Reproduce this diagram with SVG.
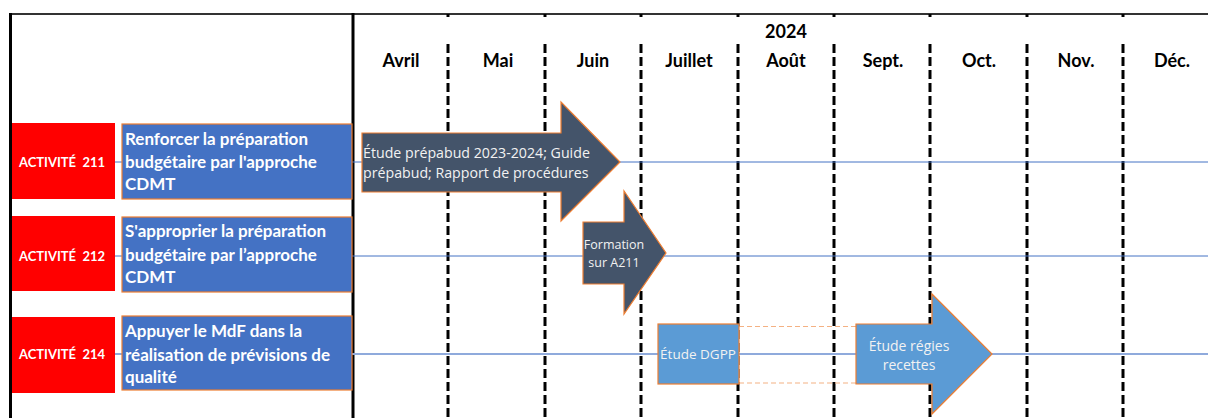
<svg xmlns="http://www.w3.org/2000/svg" width="1208" height="418" viewBox="0 0 1208 418">
<style>
.month{font-family:Lato,"Liberation Sans",sans-serif;font-weight:bold;font-size:18px;fill:#000;text-anchor:middle}
.act{fill:#FF0000}
.acttxt{font-family:Lato,"Liberation Sans",sans-serif;font-weight:bold;font-size:13px;fill:#fff;text-anchor:middle;white-space:pre}
.desc{fill:#4472C4;stroke:#ED7D31;stroke-width:1.2}
.desctxt{font-family:Lato,"Liberation Sans",sans-serif;font-weight:bold;font-size:17px;fill:#fff}
.dash{stroke:#000;stroke-width:3;stroke-dasharray:9 4}
.row{stroke:#4472C4;stroke-width:1}
.dark{fill:#44546A;stroke:#ED7D31;stroke-width:1.2}
.light{fill:#5B9BD5;stroke:#ED7D31;stroke-width:1.2}
.atxt{font-family:"Open Sans","Liberation Sans",sans-serif;font-size:12.5px;fill:#F2F2F2}
</style>
<rect width="1208" height="418" fill="#fff"/>
<g id="frame">
<line x1="9" y1="14" x2="1208" y2="14" stroke="#333" stroke-width="2"/>
<line x1="10.5" y1="13" x2="10.5" y2="418" stroke="#000" stroke-width="3"/>
<line x1="353" y1="13" x2="353" y2="418" stroke="#000" stroke-width="3"/>
</g>
<g id="grid">
<line class="dash" x1="448" y1="44" x2="448" y2="418"/>
<line class="dash" x1="545" y1="44" x2="545" y2="418"/>
<line class="dash" x1="641" y1="44" x2="641" y2="418"/>
<line class="dash" x1="738" y1="44" x2="738" y2="418"/>
<line class="dash" x1="834" y1="44" x2="834" y2="418"/>
<line class="dash" x1="930" y1="44" x2="930" y2="418"/>
<line class="dash" x1="1027" y1="44" x2="1027" y2="418"/>
<line class="dash" x1="1123" y1="44" x2="1123" y2="418"/>
<g stroke="#000" stroke-width="3">
<line x1="448" y1="14" x2="448" y2="17"/><line x1="545" y1="14" x2="545" y2="17"/><line x1="641" y1="14" x2="641" y2="17"/><line x1="738" y1="14" x2="738" y2="17"/><line x1="834" y1="14" x2="834" y2="17"/><line x1="930" y1="14" x2="930" y2="17"/><line x1="1027" y1="14" x2="1027" y2="17"/><line x1="1123" y1="14" x2="1123" y2="17"/>
</g>
</g>
<g id="header">
<text class="month" x="786" y="38">2024</text>
<text class="month" x="401" y="67">Avril</text>
<text class="month" x="498" y="67">Mai</text>
<text class="month" x="593" y="67">Juin</text>
<text class="month" x="689" y="67">Juillet</text>
<text class="month" x="786" y="67">Août</text>
<text class="month" x="883" y="67">Sept.</text>
<text class="month" x="979" y="67">Oct.</text>
<text class="month" x="1076" y="67">Nov.</text>
<text class="month" x="1172" y="67">Déc.</text>
</g>
<g id="connectors">
<line class="row" x1="115" y1="162" x2="1208" y2="162"/>
<line class="row" x1="115" y1="256" x2="1208" y2="256"/>
<line x1="115" y1="354" x2="1208" y2="354" stroke="#8FAADC" stroke-width="2"/>
<line x1="739" y1="326.5" x2="856" y2="326.5" stroke="#F4B183" stroke-width="1.2" stroke-dasharray="5 3"/>
<line x1="739" y1="383" x2="856" y2="383" stroke="#F4B183" stroke-width="1.2" stroke-dasharray="5 3"/>
</g>
<g id="act211">
<rect class="act" x="12" y="123" width="103" height="76"/>
<text class="acttxt" x="62" y="166.5" xml:space="preserve">ACTIVITÉ  211</text>
</g>
<g id="desc211">
<rect class="desc" x="122" y="124" width="230" height="75"/>
<text class="desctxt" x="125" y="145">Renforcer la préparation</text>
<text class="desctxt" x="125" y="168">budgétaire par l'approche</text>
<text class="desctxt" x="125" y="190">CDMT</text>
</g>
<g id="act212">
<rect class="act" x="12" y="216" width="103" height="75"/>
<text class="acttxt" x="62" y="260.5" xml:space="preserve">ACTIVITÉ  212</text>
</g>
<g id="desc212">
<rect class="desc" x="122" y="217" width="230" height="75"/>
<text class="desctxt" x="125" y="237">S'approprier la préparation</text>
<text class="desctxt" x="125" y="261">budgétaire par l’approche</text>
<text class="desctxt" x="125" y="283">CDMT</text>
</g>
<g id="act214">
<rect class="act" x="12" y="317" width="103" height="76"/>
<text class="acttxt" x="62" y="358.5" xml:space="preserve">ACTIVITÉ  214</text>
</g>
<g id="desc214">
<rect class="desc" x="122" y="316" width="230" height="74"/>
<text class="desctxt" x="125" y="337">Appuyer le MdF dans la</text>
<text class="desctxt" x="125" y="361">réalisation de prévisions de</text>
<text class="desctxt" x="125" y="383">qualité</text>
</g>
<g id="arrow1">
<polygon class="dark" points="362,133 561,133 561,102 620,162 561,221 561,192 362,192"/>
<text class="atxt" x="363" y="158" style="font-size:14.2px">Étude prépabud 2023-2024; Guide</text>
<text class="atxt" x="363" y="178" style="font-size:14.2px">prépabud; Rapport de procédures</text>
</g>
<g id="arrow2">
<polygon class="dark" points="583,222 624,222 624,191 666,253 624,314 624,284 583,284"/>
<text class="atxt" x="614" y="249" text-anchor="middle">Formation</text>
<text class="atxt" x="614" y="267" text-anchor="middle">sur A211</text>
</g>
<g id="dgpp">
<rect class="light" x="658" y="324" width="81" height="60"/>
<text class="atxt" x="698" y="359" text-anchor="middle" style="font-size:13.5px">Étude DGPP</text>
</g>
<g id="arrow3">
<polygon class="light" points="856,324 932,324 932,294 992,354 932,414 932,384 856,384"/>
<text class="atxt" x="909" y="351" text-anchor="middle" style="font-size:14px">Étude régies</text>
<text class="atxt" x="909" y="370" text-anchor="middle" style="font-size:14px">recettes</text>
</g>
</svg>
